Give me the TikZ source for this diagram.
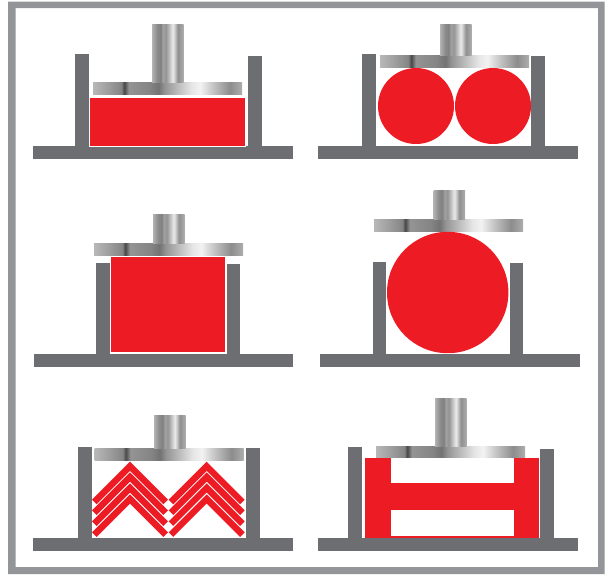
\documentclass[tikz,border=0pt]{standalone}
\usepackage{tikz}
\definecolor{framegray}{RGB}{147,149,152}
\definecolor{wallgray}{RGB}{109,110,113}
\definecolor{rubberred}{RGB}{237,28,36}
% gradients: the path covers 25bp to 75bp
\pgfdeclarehorizontalshading{platemetal}{100bp}{color(0bp)=(black!28);
  color(25bp)=(black!28); color(30bp)=(black!38); color(34.5bp)=(black!48); color(35.5bp)=(black!72);
  color(37bp)=(black!42); color(44bp)=(black!48); color(47bp)=(black!55); color(49bp)=(black!42);
  color(58bp)=(black!10); color(61bp)=(black!5); color(65bp)=(black!22); color(71bp)=(black!45);
  color(75bp)=(black!32); color(100bp)=(black!32)}
\pgfdeclarehorizontalshading{stemmetal}{100bp}{color(0bp)=(black!30);
  color(25bp)=(black!30); color(33bp)=(black!45); color(39bp)=(black!50); color(42bp)=(black!36);
  color(47bp)=(black!42); color(58bp)=(black!8); color(61bp)=(black!20); color(66bp)=(black!44);
  color(75bp)=(black!32); color(100bp)=(black!32)}
\tikzset{
  steel/.style={fill=wallgray},
  rubber/.style={fill=rubberred, draw=white, line width=0.7pt},
  rubberflat/.style={fill=rubberred},
}
\begin{document}
\begin{tikzpicture}[x=1pt, y=-1pt]
	\useasboundingbox (0,0) rectangle (609,574);
	% Rahmen
	\fill[framegray, even odd rule] (8,1.5) rectangle (604.5,574) (15.5,8) rectangle (598,567);
	% Sockel, Waende, Platte, Stempel
	\foreach \bx/\by/\wl/\tl/\wr/\tr/\px/\py/\sx/\sy in {
		33/146/75/54/248/56/93/82/152/24,
		318/146/362/54/531/56/380/55.5/440/24,
		33.5/354/96/263/226.5/264/94/243.5/153/214,
		320/354/372.5/262/509.5/263/374/219/433.5/190,
		33/538/78/447/246/448/94.5/448/154/415,
		318/538/348/447/540/448.5/376/446/435/398} {
		\fill[steel] (\bx,\by) rectangle ++(259.5,12.5);
		\fill[steel] (\wl,\tl) rectangle (\wl+13.7,\by+1);
		\fill[steel] (\wr,\tr) rectangle (\wr+13.7,\by+1);
		\shade[shading=platemetal] (\px,\py) rectangle ++(149,12);
		\shade[shading=stemmetal] (\sx,\sy) rectangle (\sx+31.5,\py);
	}
	% Quader
	\draw[rubber] (89.6,97.2) rectangle (244.9,146);
	\draw[rubber] (110.6,256.7) rectangle (224.9,352.3);
	% Kugeln
	\fill[rubberred] (416,106) circle (38);
	\fill[rubberred] (493,106) circle (38);
	\fill[rubberred] (447.7,292.5) circle (60.7);
	% Winkelpakete
	\foreach \ax in {130,206.7}
		\foreach \ay in {461.7,472.4,483.3,494.3}
			\fill[rubberred] (\ax,\ay) -- ++(38,38) -- ++(-4.6,4.6) -- ++(-33.4,-33.4)
				-- ++(-33.4,33.4) -- ++(-4.6,-4.6) -- cycle;
	% H-Profil
	\fill[rubberflat] (364.5,458) rectangle (539,538);
	\fill[white] (391,458) rectangle (514,483);
	\fill[white] (391,510) rectangle (514,536);
\end{tikzpicture}
\end{document}
